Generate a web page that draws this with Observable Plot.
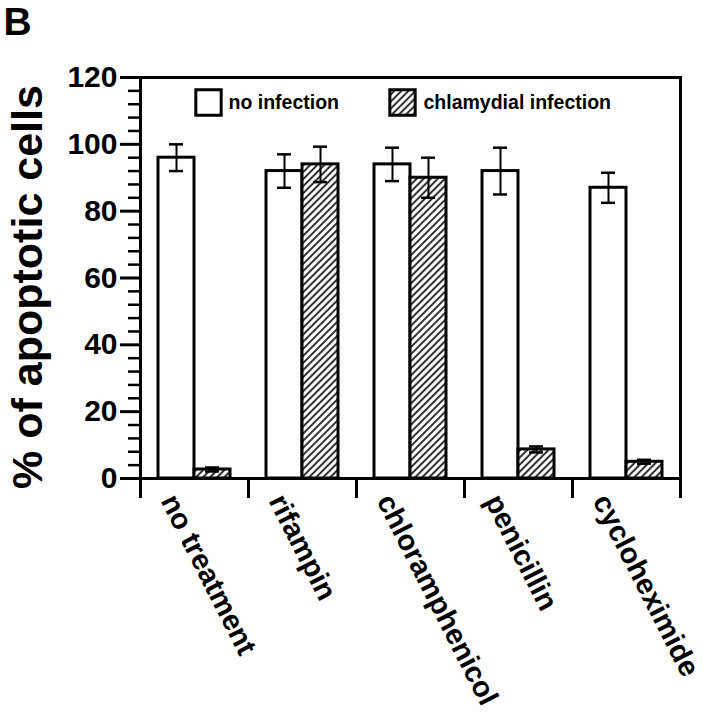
<!DOCTYPE html>
<html>
<head>
<meta charset="utf-8">
<script src="https://cdn.jsdelivr.net/npm/d3@7"></script>
<script src="https://cdn.jsdelivr.net/npm/@observablehq/plot@0.6"></script>
<style>
  html, body { margin: 0; padding: 0; background: white; }
  #chart { width: 708px; height: 719px; }
</style>
</head>
<body>
<div id="chart"></div>
<script>
const treatments = ["no treatment", "rifampin", "chloramphenicol", "penicillin", "cycloheximide"];
const noInfection = [96, 92, 94, 92, 87];
const noInfectionErr = [4, 5, 5, 7, 4.5];
const chlamydial = [2.7, 94, 90, 8.7, 5];
const chlamydialErr = [0.6, 5.3, 6, 0.9, 0.6];
const majorTicks = [0, 20, 40, 60, 80, 100, 120];
const minorTicks = d3.range(0, 121, 4).filter(v => v % 20 !== 0);
const seriesNames = ["no infection", "chlamydial infection"];

const rows = treatments.map((t, i) => ({
  treatment: t,
  a: noInfection[i], aErr: noInfectionErr[i],
  b: chlamydial[i], bErr: chlamydialErr[i]
}));

const font = "'Liberation Sans', Arial, Helvetica, sans-serif";

const plot = Plot.plot({
  width: 708,
  height: 719,
  marginLeft: 140,
  marginRight: 28,
  marginTop: 77,
  marginBottom: 241,
  style: `font-family: ${font}; font-weight: bold; background: white; color: black;`,
  x: {type: "band", domain: treatments, padding: 0},
  y: {domain: [0, 120]},
  marks: [
    // bars
    Plot.barY(rows, {x: "treatment", y: "a", fill: "white", stroke: "black", strokeWidth: 3, insetLeft: 18, insetRight: 54}),
    Plot.barY(rows, {x: "treatment", y: "b", fill: "url(#hatch)", stroke: "black", strokeWidth: 3, insetLeft: 54, insetRight: 18}),
    // error bars
    Plot.ruleX(rows, {x: "treatment", y1: d => d.a - d.aErr, y2: d => d.a + d.aErr, dx: -18, stroke: "black", strokeWidth: 2}),
    Plot.tickY(rows, {x: "treatment", y: d => d.a + d.aErr, dx: -18, insetLeft: 47, insetRight: 47, stroke: "black", strokeWidth: 2.5}),
    Plot.tickY(rows, {x: "treatment", y: d => d.a - d.aErr, dx: -18, insetLeft: 47, insetRight: 47, stroke: "black", strokeWidth: 2.5}),
    Plot.ruleX(rows, {x: "treatment", y1: d => d.b - d.bErr, y2: d => d.b + d.bErr, dx: 18, stroke: "black", strokeWidth: 2}),
    Plot.tickY(rows, {x: "treatment", y: d => d.b + d.bErr, dx: 18, insetLeft: 47, insetRight: 47, stroke: "black", strokeWidth: 2.5}),
    Plot.tickY(rows, {x: "treatment", y: d => d.b - d.bErr, dx: 18, insetLeft: 47, insetRight: 47, stroke: "black", strokeWidth: 2.5}),
    // frame
    Plot.frame({stroke: "black", strokeWidth: 3}),
    // y axis
    Plot.axisY({ticks: majorTicks, tickSize: 20, tickPadding: 3, fontSize: 30, fontWeight: "bold", strokeWidth: 3, label: null, stroke: "black", fill: "black"}),
    Plot.axisY({ticks: minorTicks, tickSize: 12, tickFormat: () => "", strokeWidth: 2.5, label: null, stroke: "black"}),
    // x axis boundary ticks
    Plot.axisX({ticks: treatments, tickSize: 20, tickFormat: () => "", dx: -54, strokeWidth: 3, label: null, stroke: "black"}),
    Plot.axisX({ticks: [treatments[treatments.length - 1]], tickSize: 20, tickFormat: () => "", dx: 54, strokeWidth: 3, label: null, stroke: "black"}),
    // x tick labels (rotated)
    Plot.text(treatments, {x: d => d, frameAnchor: "bottom", dx: -26, dy: 18, rotate: 63, textAnchor: "start", lineAnchor: "middle", fontSize: 29, fontWeight: "bold", fill: "black"}),
    // y title
    Plot.text(["% of apoptotic cells"], {frameAnchor: "left", dx: -112, dy: 9, rotate: -90, textAnchor: "middle", lineAnchor: "middle", fontSize: 43, fontWeight: "bold", fill: "black"}),
    // panel letter
    Plot.text(["B"], {frameAnchor: "top-left", dx: -137, dy: -70, textAnchor: "start", lineAnchor: "top", fontSize: 39, fontWeight: "bold", fill: "black"}),
    // legend
    Plot.dot([seriesNames[0]], {frameAnchor: "top-left", dx: 68, dy: 25, symbol: "square", r: 14.3, fill: "white", stroke: "black", strokeWidth: 3}),
    Plot.text([seriesNames[0]], {frameAnchor: "top-left", dx: 88, dy: 25, textAnchor: "start", lineAnchor: "middle", fontSize: 19.5, fontWeight: "bold", fill: "black"}),
    Plot.dot([seriesNames[1]], {frameAnchor: "top-left", dx: 262, dy: 25, symbol: "square", r: 14.3, fill: "url(#hatch)", stroke: "black", strokeWidth: 3}),
    Plot.text([seriesNames[1]], {frameAnchor: "top-left", dx: 283, dy: 25, textAnchor: "start", lineAnchor: "middle", fontSize: 19.5, fontWeight: "bold", fill: "black"})
  ]
});

// hatch pattern definition
const ns = "http://www.w3.org/2000/svg";
const defs = document.createElementNS(ns, "defs");
const pat = document.createElementNS(ns, "pattern");
pat.setAttribute("id", "hatch");
pat.setAttribute("patternUnits", "userSpaceOnUse");
pat.setAttribute("width", "5");
pat.setAttribute("height", "5");
pat.setAttribute("patternTransform", "rotate(45)");
const bg = document.createElementNS(ns, "rect");
bg.setAttribute("width", "5"); bg.setAttribute("height", "5"); bg.setAttribute("fill", "white");
const ln = document.createElementNS(ns, "line");
ln.setAttribute("x1", "1"); ln.setAttribute("y1", "0");
ln.setAttribute("x2", "1"); ln.setAttribute("y2", "5");
ln.setAttribute("stroke", "black"); ln.setAttribute("stroke-width", "1.6");
pat.appendChild(bg); pat.appendChild(ln);
defs.appendChild(pat);
plot.insertBefore(defs, plot.firstChild);

document.getElementById("chart").appendChild(plot);
</script>
</body>
</html>
